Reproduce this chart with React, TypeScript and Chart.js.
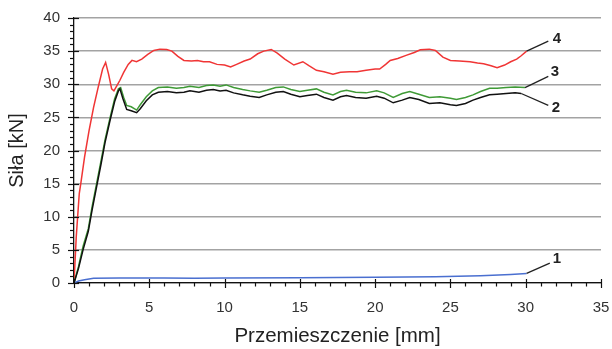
import React, { useEffect, useRef } from "react";
import { Chart, registerables } from "chart.js";

Chart.register(...registerables);

// ---- Data ----
const X_MIN = 0, X_MAX = 35, X_STEP = 5, X_MINOR = 1;
const Y_MIN = 0, Y_MAX = 40, Y_STEP = 5, Y_MINOR = 1;

// Series 4 (red)
const s4x = [0, 0.15, 0.35, 0.45, 0.7, 1.0, 1.3, 1.6, 1.9, 2.1, 2.3, 2.5, 2.65, 2.85, 3.05, 3.3, 3.6, 3.85, 4.15, 4.5, 4.9, 5.3, 5.7, 6.15, 6.5, 6.9, 7.3, 7.8, 8.2, 8.6, 9.0, 9.5, 10.0, 10.4, 10.8, 11.3, 11.7, 12.2, 12.6, 13.1, 13.5, 14.0, 14.6, 15.2, 15.6, 16.1, 16.6, 17.2, 17.7, 18.3, 18.8, 19.4, 20.0, 20.3, 20.7, 21.0, 21.5, 22.1, 22.6, 23.0, 23.6, 24.0, 24.5, 25.0, 25.6, 26.3, 26.8, 27.2, 27.7, 28.1, 28.6, 29.0, 29.4, 29.7, 30.06];
const s4y = [0, 7, 13.5, 15.0, 19, 23, 26.5, 29.5, 32.3, 33.3, 31.5, 29.3, 29.0, 29.8, 30.6, 31.8, 33.0, 33.6, 33.4, 33.8, 34.5, 35.1, 35.3, 35.25, 35.0, 34.2, 33.6, 33.5, 33.6, 33.4, 33.4, 33.0, 32.9, 32.6, 33.0, 33.5, 33.8, 34.6, 35.0, 35.25, 34.7, 33.8, 32.9, 33.4, 32.8, 32.1, 31.9, 31.5, 31.8, 31.9, 31.9, 32.1, 32.3, 32.3, 33.0, 33.6, 33.9, 34.4, 34.8, 35.2, 35.3, 35.1, 34.1, 33.6, 33.5, 33.4, 33.2, 33.1, 32.8, 32.5, 32.9, 33.4, 33.8, 34.3, 35.0];

// Series 3 (green)
const s3x = [0, 0.3, 0.6, 0.95, 1.2, 1.5, 1.8, 2.06, 2.4, 2.7, 2.95, 3.1, 3.3, 3.5, 3.8, 4.16, 4.4, 4.8, 5.2, 5.6, 6.2, 6.8, 7.3, 7.7, 8.3, 8.8, 9.25, 9.7, 10.1, 10.6, 11.2, 11.7, 12.3, 12.8, 13.4, 13.9, 14.4, 15.0, 15.5, 16.1, 16.6, 17.2, 17.7, 18.1, 18.7, 19.4, 20.1, 20.6, 21.2, 21.8, 22.3, 22.9, 23.6, 24.3, 25.0, 25.4, 26.0, 26.5, 27.0, 27.6, 28.1, 28.7, 29.3, 29.95];
const s3y = [0, 2.5, 5.5, 8.2, 11.5, 15.0, 18.5, 21.6, 25, 27.8, 29.3, 29.5, 28.0, 26.8, 26.6, 26.1, 26.9, 28.1, 29.0, 29.5, 29.6, 29.4, 29.5, 29.7, 29.5, 29.8, 29.9, 29.7, 29.9, 29.5, 29.2, 29.0, 28.8, 29.1, 29.5, 29.6, 29.2, 28.9, 29.1, 29.3, 28.8, 28.4, 28.9, 29.1, 28.8, 28.7, 29.0, 28.7, 28.0, 28.6, 28.9, 28.5, 28.0, 28.1, 27.9, 27.7, 28.0, 28.4, 28.9, 29.4, 29.4, 29.5, 29.6, 29.5];

// Series 2 (black)
const s2x = [0, 0.3, 0.6, 0.95, 1.2, 1.5, 1.8, 2.06, 2.4, 2.7, 2.95, 3.05, 3.25, 3.5, 3.8, 4.16, 4.4, 4.8, 5.2, 5.6, 6.2, 6.8, 7.3, 7.7, 8.3, 8.8, 9.25, 9.7, 10.1, 10.6, 11.2, 11.7, 12.3, 12.8, 13.4, 13.9, 14.4, 15.0, 15.5, 16.1, 16.6, 17.2, 17.7, 18.1, 18.7, 19.4, 20.1, 20.6, 21.2, 21.8, 22.3, 22.9, 23.6, 24.3, 25.0, 25.4, 26.0, 26.5, 27.0, 27.6, 28.1, 28.7, 29.3, 29.7];
const s2y = [0, 2.2, 5.0, 7.8, 11.0, 14.5, 18.0, 21.2, 24.6, 27.4, 29.0, 29.3, 27.8, 26.2, 26.0, 25.7, 26.3, 27.5, 28.4, 28.8, 28.9, 28.7, 28.8, 29.0, 28.8, 29.1, 29.2, 29.0, 29.1, 28.7, 28.4, 28.2, 28.0, 28.4, 28.8, 28.9, 28.5, 28.1, 28.3, 28.5, 28.0, 27.6, 28.1, 28.3, 28.0, 27.9, 28.2, 27.9, 27.2, 27.6, 28.0, 27.7, 27.1, 27.2, 26.9, 26.8, 27.1, 27.6, 28.0, 28.4, 28.5, 28.6, 28.7, 28.6];

// Series 1 (blue)
const s1x = [0, 0.3, 0.7, 1.3, 3, 6, 8, 10, 15, 20, 24, 27, 29, 30.06];
const s1y = [0, 0.3, 0.5, 0.7, 0.75, 0.75, 0.7, 0.75, 0.8, 0.85, 0.95, 1.1, 1.3, 1.45];

// Curve labels
const CURVE_LABELS = ["1", "2", "3", "4"];
// leader-line ends and label centres in data units
const LEADER_END_X = [31.6, 31.5, 31.5, 31.5];
const LEADER_END_Y = [3.0, 26.8, 31.2, 36.5];
const LABEL_X = [32.07, 32.0, 31.94, 32.07];
const LABEL_Y = [3.6, 26.4, 31.8, 36.8];

const zip = (xs: number[], ys: number[]) => xs.map((x, i) => ({ x, y: ys[i] }));

const SERIES = [
  { name: "1", xs: s1x, ys: s1y, color: "#4a6fd0" },
  { name: "2", xs: s2x, ys: s2y, color: "#111111" },
  { name: "3", xs: s3x, ys: s3y, color: "#3f9a36" },
  { name: "4", xs: s4x, ys: s4y, color: "#f03535" },
];

const FONT = "'Liberation Sans', Arial, sans-serif";

const zeroPad = (s: any) => {
  s.paddingTop = 0;
  s.paddingBottom = 0;
  s.paddingLeft = 0;
  s.paddingRight = 0;
};

const decorPlugin = {
  id: "decor",
  afterDraw(chart: any) {
    const { ctx, scales } = chart;
    const x = scales.x, y = scales.y;
    ctx.save();
    ctx.strokeStyle = "#111";
    ctx.lineWidth = 1.2;
    // y ticks
    for (let v = Y_MIN; v <= Y_MAX + 1e-9; v += Y_MINOR) {
      const major = Math.abs(v % Y_STEP) < 1e-9;
      const py = Math.round(y.getPixelForValue(v)) + 0.5;
      ctx.beginPath();
      ctx.moveTo(x.left - (major ? 6 : 4), py);
      ctx.lineTo(x.left + (major ? 5 : 0), py);
      ctx.stroke();
    }
    // x ticks
    for (let v = X_MIN; v <= X_MAX + 1e-9; v += X_MINOR) {
      const major = Math.abs(v % X_STEP) < 1e-9;
      const px = Math.round(x.getPixelForValue(v)) + 0.5;
      ctx.beginPath();
      ctx.moveTo(px, y.bottom + (major ? 5 : 3.5));
      ctx.lineTo(px, y.bottom - (major ? 4 : 0));
      ctx.stroke();
    }
    // curve labels with leader lines
    ctx.lineWidth = 1.3;
    ctx.strokeStyle = "#222";
    ctx.fillStyle = "#222";
    ctx.font = `bold 15px ${FONT}`;
    ctx.textAlign = "center";
    ctx.textBaseline = "middle";
    CURVE_LABELS.forEach((lab, i) => {
      const s = SERIES.find((q) => q.name === lab)!;
      const sx = x.getPixelForValue(s.xs[s.xs.length - 1]);
      const sy = y.getPixelForValue(s.ys[s.ys.length - 1]);
      ctx.beginPath();
      ctx.moveTo(sx, sy);
      ctx.lineTo(x.getPixelForValue(LEADER_END_X[i]), y.getPixelForValue(LEADER_END_Y[i]));
      ctx.stroke();
      ctx.fillText(lab, x.getPixelForValue(LABEL_X[i]), y.getPixelForValue(LABEL_Y[i]));
    });
    ctx.restore();
  },
};

export default function App() {
  const ref = useRef<HTMLCanvasElement>(null);
  useEffect(() => {
    document.body.style.margin = "0";
    const chart = new Chart(ref.current!, {
      type: "line",
      data: {
        datasets: SERIES.map((s) => ({
          label: s.name,
          data: zip(s.xs, s.ys),
          borderColor: s.color,
          backgroundColor: s.color,
          borderWidth: 1.5,
          pointRadius: 0,
          tension: 0,
          fill: false,
        })),
      },
      options: {
        animation: false,
        responsive: false,
        devicePixelRatio: 1,
        layout: { padding: { top: 18, right: 11, left: 0, bottom: 0 } },
        plugins: { legend: { display: false }, tooltip: { enabled: false } },
        scales: {
          x: {
            type: "linear",
            min: X_MIN,
            max: X_MAX,
            afterFit: (s: any) => { s.height = 66; zeroPad(s); },
            ticks: { stepSize: X_STEP, padding: 15.5, color: "#333", font: { family: FONT, size: 15 }, maxRotation: 0 },
            grid: { display: true, drawOnChartArea: false, drawTicks: false },
            border: { display: true, color: "#111", width: 1.3 },
            title: {
              display: true,
              text: "Przemieszczenie [mm]",
              color: "#222",
              font: { family: FONT, size: 20.5 },
              padding: { top: 0, bottom: 0 },
            },
          },
          y: {
            type: "linear",
            min: Y_MIN,
            max: Y_MAX,
            afterFit: (s: any) => { s.width = 74; zeroPad(s); },
            ticks: { stepSize: Y_STEP, padding: 14, color: "#333", font: { family: FONT, size: 15 } },
            grid: { color: "#a3a3a3", lineWidth: 1.5, drawTicks: false },
            border: { display: true, color: "#111", width: 1.3 },
            title: {
              display: true,
              text: "Siła [kN]",
              color: "#222",
              font: { family: FONT, size: 20 },
              padding: { top: 5.5, bottom: 0 },
            },
          },
        },
      },
      plugins: [decorPlugin],
    });
    return () => chart.destroy();
  }, []);
  return (
    <div style={{ width: 612, height: 349 }}>
      <canvas ref={ref} width={612} height={349} style={{ display: "block", width: 612, height: 349 }} />
    </div>
  );
}
